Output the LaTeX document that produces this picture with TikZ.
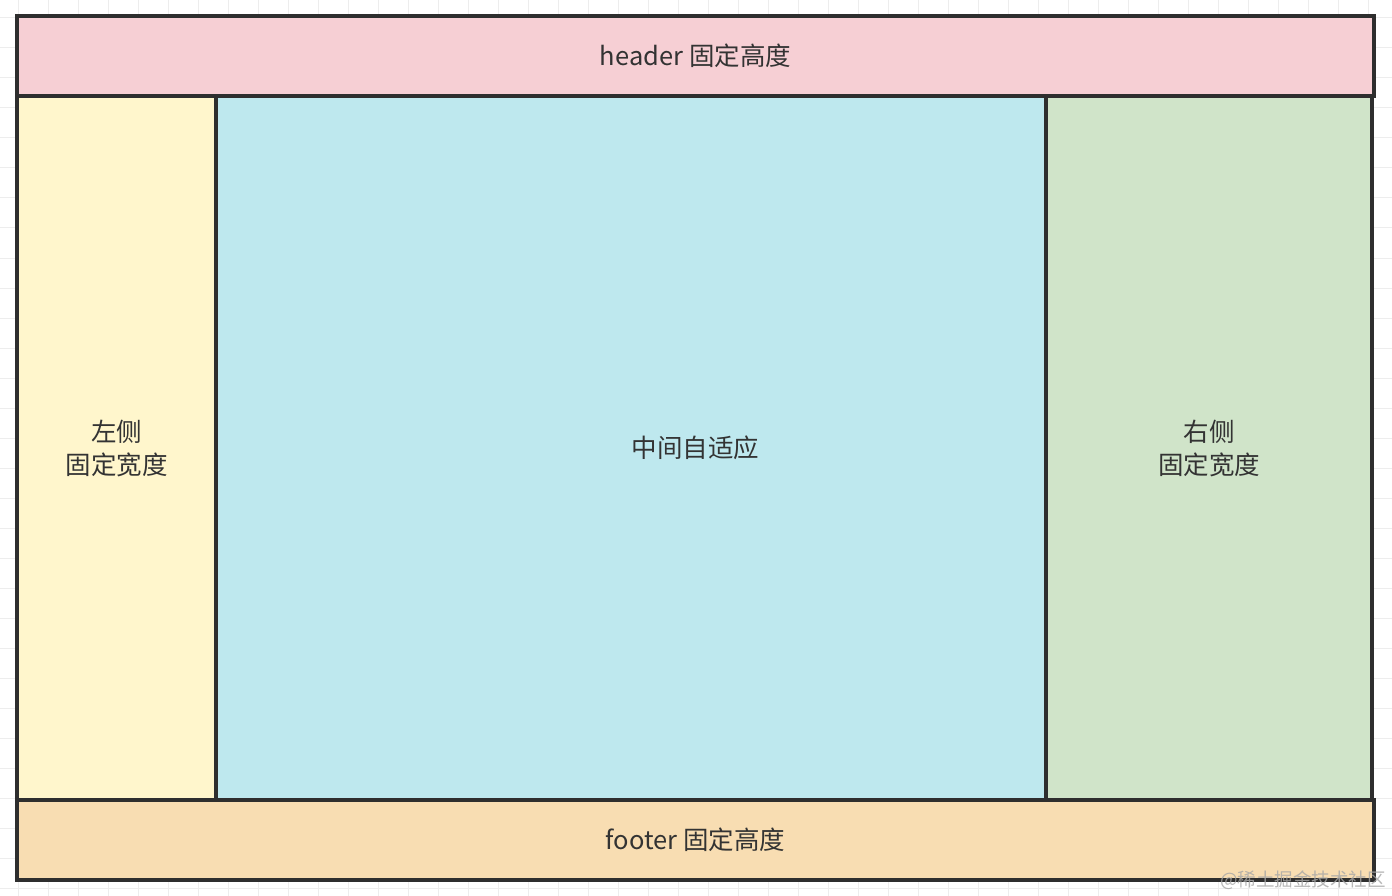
\documentclass[tikz,border=0pt]{standalone}
\usepackage{fontspec}
\setmainfont{Noto Sans CJK SC}
\definecolor{headerpink}{HTML}{F6CFD4}
\definecolor{leftyellow}{HTML}{FFF6CC}
\definecolor{midcyan}{HTML}{BEE8EE}
\definecolor{rightgreen}{HTML}{D0E4C9}
\definecolor{footerorange}{HTML}{F8DDB2}
\definecolor{framegray}{HTML}{2E2E2E}
\definecolor{textgray}{HTML}{333333}
\definecolor{gridgray}{HTML}{EDEDED}
\begin{document}
\begin{tikzpicture}
  [x=1pt,y=-1pt,every node/.style={text=textgray,align=center,inner sep=0pt,font=\fontsize{25.5}{33}\selectfont}]
  \tikzstyle{box} = [draw=framegray,line width=3.6pt,rectangle]
  \tikzstyle{grid line} = [draw=gridgray,line width=1pt]
  \useasboundingbox (0,0) rectangle (1392,896);
  \fill[white] (0,0) rectangle (1392,896);
  % background grid
  \foreach \x in {18,48,...,1392} \draw[grid line] (\x,0) -- (\x,896);
  \foreach \y in {18,48,...,896} \draw[grid line] (0,\y) -- (1392,\y);
  % columns
  \node[box,fill=leftyellow,minimum width=199pt,minimum height=704pt] (left) at (116.5,448) {左侧\\固定宽度};
  \node[box,fill=midcyan,minimum width=830pt,minimum height=704pt] (middle) at (631,448) {};
  \node[box,fill=rightgreen,minimum width=326pt,minimum height=704pt] (right) at (1209,448) {右侧\\固定宽度};
  \node (midtext) at (695.5,448) {中间自适应};
  % header and footer
  \node[box,fill=headerpink,minimum width=1357pt,minimum height=80pt] (header) at (695.5,56) {header 固定高度};
  \node[box,fill=footerorange,minimum width=1357pt,minimum height=80pt] (footer) at (695.5,840) {footer 固定高度};
  \node[anchor=base east,text=gray!70,opacity=.8,font=\fontsize{18.5}{19}\selectfont] (mark) at (1386,886) {@稀土掘金技术社区};
\end{tikzpicture}
\end{document}
